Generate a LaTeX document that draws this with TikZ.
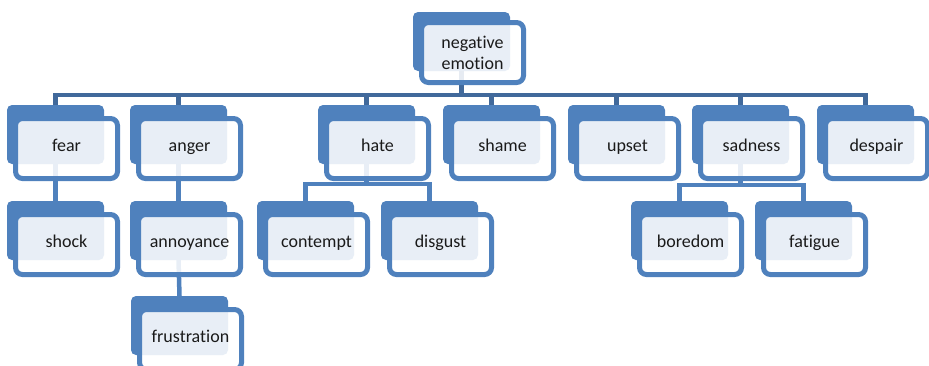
\documentclass[tikz,border=0pt]{standalone}
\usepackage{fontspec}
\setmainfont{Carlito}[Ligatures=NoCommon]
\definecolor{nodeblue}{HTML}{4F81BD}
\definecolor{busblue}{HTML}{41699B}
\definecolor{txt}{HTML}{1A1A1A}
\tikzset{
 backbox/.style={rectangle, rounded corners=5pt, fill=nodeblue, minimum width=97pt, minimum height=59pt, inner sep=0pt, outer sep=0pt},
 frontbase/.style={rectangle, rounded corners=7pt, draw=nodeblue, line width=5pt, fill=white, fill opacity=0.87, text opacity=1, draw opacity=1, minimum width=102pt, minimum height=60pt, inner sep=0pt, outer sep=0pt, font=\fontsize{18}{21}\selectfont, text=txt},
 frontbox/.style={frontbase, text height=9pt, text depth=4pt, yshift=-3pt},
 topbox/.style={frontbase, align=center},
 conn/.style={draw=nodeblue, line width=4.5pt},
 busline/.style={draw=busblue, line width=4.5pt},
}
\newcommand\backat[3]{\node[backbox] (#1) at (#2+48.5,#3+29.5) {};}
\newcommand\frontat[4]{\node[frontbox] (#1-f) at (#2+59.5,#3+40.5) {#4};}
\begin{document}
\begin{tikzpicture}[x=1pt,y=-1pt]
\useasboundingbox (0,0) rectangle (929,365);
% back boxes
\backat{top}{413}{12}
\backat{fear}{7}{105}
\backat{anger}{130}{105}
\backat{hate}{318}{105}
\backat{shame}{443}{105}
\backat{upset}{568}{105}
\backat{sadness}{692}{105}
\backat{despair}{817}{105}
\backat{shock}{7}{201}
\backat{annoyance}{130}{201}
\backat{contempt}{257}{201}
\backat{disgust}{381}{201}
\backat{boredom}{631}{201}
\backat{fatigue}{755}{201}
\backat{frustration}{131}{296}
% connectors
\coordinate (bus) at (0,95);
\coordinate (hb) at (0,184);
\coordinate (sb) at (0,185);
\draw[busline] (top.south) -- (top.south |- bus);
\draw[busline] (fear.north) -- (fear.north |- bus) -- (despair.north |- bus) -- (despair.north);
\foreach \n in {anger,hate,shame,upset,sadness}
  \draw[busline] (\n.north) -- (\n.north |- bus);
\draw[conn] (fear.south) -- (shock.north);
\draw[conn] (anger.south) -- (annoyance.north);
\draw[conn] (annoyance.south) -- (frustration.north);
\draw[conn] (hate.south) -- (hate.south |- hb);
\draw[conn] (contempt.north) -- (contempt.north |- hb) -- (disgust.north |- hb) -- (disgust.north);
\draw[conn] (sadness.south) -- (sadness.south |- sb);
\draw[conn] (boredom.north) -- (boredom.north |- sb) -- (fatigue.north |- sb) -- (fatigue.north);
% front boxes
\node[topbox] (top-f) at (413+59.5,12+40.5) {negative\\emotion};
\frontat{fear}{7}{105}{fear}
\frontat{anger}{130}{105}{anger}
\frontat{hate}{318}{105}{hate}
\frontat{shame}{443}{105}{shame}
\frontat{upset}{568}{105}{upset}
\frontat{sadness}{692}{105}{sadness}
\frontat{despair}{817}{105}{despair}
\frontat{shock}{7}{201}{shock}
\frontat{annoyance}{130}{201}{annoyance}
\frontat{contempt}{257}{201}{contempt}
\frontat{disgust}{381}{201}{disgust}
\frontat{boredom}{631}{201}{boredom}
\frontat{fatigue}{755}{201}{fatigue}
\frontat{frustration}{131}{296}{frustration}
\end{tikzpicture}
\end{document}
